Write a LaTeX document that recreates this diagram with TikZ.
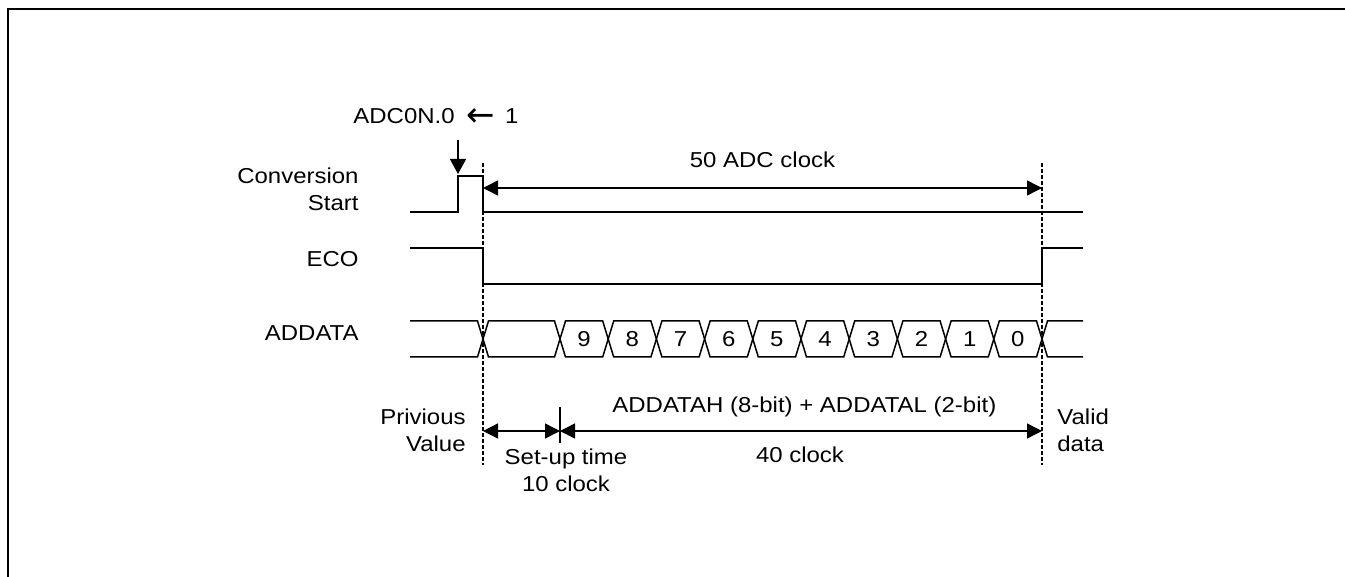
\documentclass[tikz,border=0pt]{standalone}
\usepackage{fontspec}
\setmainfont{Liberation Sans}[FakeStretch=1.11]
\newfontfamily\arrowfont{DejaVu Sans}
\usepackage{tikz}
\usetikzlibrary{arrows.meta,positioning,calc}

\begin{document}
\begin{tikzpicture}[
			x=0.5pt,
			y=-0.5pt,
			font=\fontsize{10.8pt}{13.75pt}\selectfont,
			wave/.style={line width=.75pt},
			guide/.style={line width=.8pt, dash pattern=on 2pt off 1pt},
			span/.style={{Triangle[length=7.5pt,width=7.5pt]}-{Triangle[length=7.5pt,width=7.5pt]}, line width=.7pt},
			tip/.style={-{Triangle[length=7.5pt,width=8pt]}, line width=.7pt},
			lbl/.style={inner sep=0pt}
			]
			
			\useasboundingbox (0,0) rectangle (1345,577);
			\draw[line width=1.2pt] (1345,9) -- (8,9) -- (8,577);
			
			% Time marks (pixel units)
			\def\tL{410}   % left end of the waves
			\def\tS{483}   % conversion start
			\def\tD{560}   % end of set-up time
			\def\tE{1042}  % conversion end
			\def\tR{1083}  % right end of the waves
			\def\hw{5.5}   % half width of a bus crossing
			\pgfmathsetmacro{\pitch}{(\tE-\tD)/10}
			
			%------------------------------
			% Signal names
			%------------------------------
			\node[lbl, anchor=north east, align=right] (name_conv) at (359,167) {Conversion\\Start};
			\node[lbl, anchor=base east] (name_eco) at (359,267) {ECO};
			\node[lbl, anchor=base east] (name_data) at (359,341) {ADDATA};
			
			%------------------------------
			% Waves
			%------------------------------
			\draw[wave] (\tL,212) -- (458,212) -- (458,176) -- (\tS,176) -- (\tS,212) -- (\tR,212);
			\draw[wave] (\tL,248) -- (\tS,248) -- (\tS,284) -- (\tE,284) -- (\tE,248) -- (\tR,248);
			
			% Bus: previous value, set-up, bits 9..0, valid data
			\draw[wave] (\tL,321) -- (\tS-\hw,321) -- (\tS,339) -- (\tS-\hw,357) -- (\tL,357);
			\draw[wave] (\tS,339) -- (\tS+\hw,321) -- (\tD-\hw,321) -- (\tD,339) -- (\tD-\hw,357) -- (\tS+\hw,357) -- cycle;
			\foreach \b [count=\i from 0] in {9,8,7,6,5,4,3,2,1,0}{
				\pgfmathsetmacro{\xa}{\tD+\i*\pitch}
				\pgfmathsetmacro{\xb}{\xa+\pitch}
				\draw[wave] (\xa,339) -- (\xa+\hw,321) -- (\xb-\hw,321) -- (\xb,339) -- (\xb-\hw,357) -- (\xa+\hw,357) -- cycle;
				\node[lbl] (bit\b) at ({(\xa+\xb)/2},339) {\b};
			}
			\draw[wave] (\tR,321) -- (\tE+\hw,321) -- (\tE,339) -- (\tE+\hw,357) -- (\tR,357);
			
			%------------------------------
			% Guides and spans
			%------------------------------
			\draw[guide] (\tS,163) -- (\tS,465);
			\draw[guide] (\tE,163) -- (\tE,465);
			
			\coordinate (s50) at (\tS,188);
			\coordinate (e50) at (\tE,188);
			\coordinate (s10) at (\tS,431);
			\coordinate (e10) at (\tD,431);
			\coordinate (e40) at (\tE,431);
			\draw[span] (s50) -- (e50);
			\draw[span] (s10) -- (e10);
			\draw[span] (e10) -- (e40);
			\draw[line width=.7pt] ($(e10)+(0,-24)$) -- ($(e10)+(0,12)$);
			
			\node[lbl, anchor=base] (name_50) at ($(s50)!.5!(e50)+(0,-20)$) {50 ADC clock};
			\node[lbl, anchor=base west] (name_h) at (612,413) {ADDATAH (8-bit) + ADDATAL (2-bit)};
			\node[lbl, anchor=base] (name_40) at (800,462) {40 clock};
			\node[lbl, anchor=north, align=center] (name_setup) at (566,448) {Set-up time\\10 clock};
			\node[lbl, anchor=north east, align=right] (name_prev) at (466,408) {Privious\\Value};
			\node[lbl, anchor=north west, align=left] (name_valid) at (1057,408) {Valid\\data};
			
			%------------------------------
			% Trigger
			%------------------------------
			\node[lbl, anchor=base west] (name_adcon) at (353,124) {ADC0N.0\hspace{6pt}\raisebox{-1.2pt}{\arrowfont\fontsize{17pt}{17pt}\selectfont ←}\hspace{5pt}1};
			\coordinate (trig) at (458,174);
			\draw[tip] (trig |- 0,140) -- (trig);
		\end{tikzpicture}
\end{document}
